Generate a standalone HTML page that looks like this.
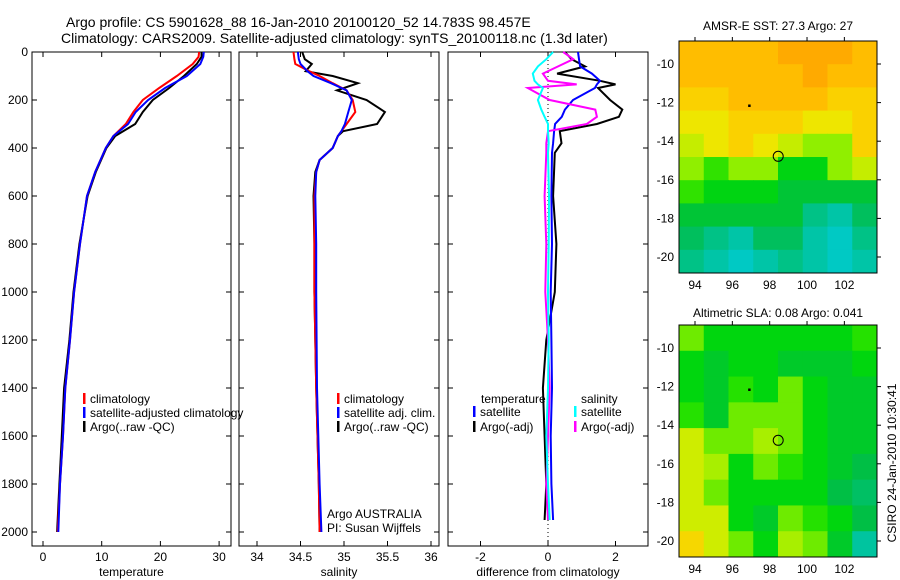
<!DOCTYPE html>
<html><head><meta charset="utf-8"><style>
body{margin:0;background:#fff;}
svg{display:block;font-family:"Liberation Sans",sans-serif;}
</style></head><body>
<svg id="fig" width="900" height="580" viewBox="0 0 900 580">
<text x="66" y="27" font-size="14">Argo profile: CS 5901628_88 16-Jan-2010 20100120_52 14.783S 98.457E</text>
<text x="61" y="43" font-size="14">Climatology: CARS2009. Satellite-adjusted climatology: synTS_20100118.nc (1.3d later)</text>
<text x="778" y="30" font-size="12" text-anchor="middle">AMSR-E SST: 27.3 Argo: 27</text>
<text x="778" y="317" font-size="12" text-anchor="middle">Altimetric SLA: 0.08 Argo: 0.041</text>
<text transform="translate(896,463) rotate(-90)" font-size="12" text-anchor="middle">CSIRO 24-Jan-2010 10:30:41</text>
<g id="layer"></g>
</svg>
<script>
// ---- data ----
const depthTicks=[0,200,400,600,800,1000,1200,1400,1600,1800,2000];
const tempTicks=[0,10,20,30];
const salTicks=[34,34.5,35,35.5,36];
const diffTicks=[-2,0,2];
const lonTicks=[94,96,98,100,102];
const latTicks=[-10,-12,-14,-16,-18,-20];

const tDepth=[0,20,50,100,150,200,250,300,350,400,500,600,800,1000,1200,1400,1600,1800,2000];
const tClim=[26.6,26.5,25.5,22.8,19.8,17.0,15.4,14.1,12.0,10.7,8.9,7.5,6.3,5.3,4.6,3.8,3.4,2.9,2.5];
const tSat=[27.4,27.3,26.8,24.5,20.8,17.9,15.8,14.5,12.0,10.7,8.9,7.5,6.3,5.3,4.6,3.8,3.4,2.9,2.6];
const tArgo=[27.0,27.0,26.2,24.0,21.5,18.7,17.0,15.7,12.3,10.8,9.0,7.6,6.2,5.2,4.5,3.6,3.2,2.8,2.4];

const sDepth=[0,30,50,80,100,130,160,200,250,300,330,350,400,450,500,600,800,1000,1400,1800,2000];
const sClim=[34.42,34.43,34.44,34.60,34.72,34.87,35.03,35.10,35.13,35.03,34.97,34.93,34.87,34.72,34.68,34.66,34.66,34.66,34.68,34.71,34.72];
const sSat=[34.47,34.48,34.50,34.58,34.65,34.85,35.03,35.09,35.05,35.01,34.97,34.93,34.87,34.72,34.68,34.67,34.68,34.68,34.69,34.72,34.74];
const sArgo=[34.52,34.55,34.63,34.56,34.87,35.16,34.92,35.26,35.47,35.38,34.99,34.93,34.87,34.72,34.67,34.65,34.66,34.66,34.68,34.71,34.72];

const dDepth=[0,30,60,90,120,135,150,200,240,270,300,330,380,420,600,800,1000,1200,1400,1600,1800,1950];
const dTempSat=[0.89,0.92,0.95,1.3,1.54,1.45,1.39,0.74,0.5,0.41,0.21,0.18,0.15,0.12,0.1,0.12,0.08,0.1,0.12,0.08,0.1,0.15];
const dTempArgo=[0.5,0.7,1.1,0.27,1.54,2.0,1.48,1.84,2.2,2.1,1.45,0.35,0.4,0.2,0.15,0.25,0.2,-0.05,-0.15,-0.1,-0.05,-0.1];
const dSalSat=[0.15,-0.05,-0.3,-0.45,-0.4,-0.3,-0.15,-0.3,-0.2,-0.1,0.0,0.0,0.02,0.0,0.03,0.02,0.0,0.02,0.0,-0.05,0.0,0.05];
const dSalArgo=[0.45,0.75,0.3,-0.15,0.0,0.85,-0.6,0.05,1.4,1.45,1.15,0.0,-0.05,-0.05,-0.1,-0.05,-0.08,0.0,0.05,0.0,-0.05,0.0];

// map grids (rows north->south, cols west->east)
const sstGrid=[
[27.6,27.6,27.6,27.6,27.7,27.7,27.7,27.6],
[27.6,27.6,27.6,27.6,27.6,27.7,27.6,27.6],
[27.5,27.5,27.6,27.6,27.6,27.6,27.5,27.5],
[27.4,27.4,27.5,27.5,27.5,27.4,27.4,27.5],
[27.3,27.4,27.5,27.4,27.3,27.2,27.2,27.5],
[27.2,27.1,27.2,27.2,27.0,27.0,27.2,27.3],
[27.1,27.0,27.0,27.0,26.9,26.9,26.9,26.9],
[26.9,26.9,26.9,26.9,26.9,26.7,26.6,26.8],
[26.8,26.7,26.6,26.8,26.8,26.6,26.5,26.7],
[26.7,26.6,26.5,26.6,26.7,26.6,26.5,26.6]];
const slaGrid=[
[0.10,0.08,0.08,0.08,0.08,0.08,0.08,0.09],
[0.08,0.07,0.08,0.08,0.07,0.07,0.07,0.08],
[0.08,0.07,0.09,0.08,0.10,0.08,0.07,0.07],
[0.09,0.07,0.10,0.10,0.10,0.08,0.07,0.07],
[0.12,0.10,0.10,0.11,0.10,0.08,0.07,0.07],
[0.12,0.11,0.08,0.10,0.09,0.08,0.07,0.06],
[0.12,0.10,0.08,0.08,0.08,0.08,0.06,0.05],
[0.12,0.12,0.08,0.07,0.10,0.09,0.08,0.06],
[0.14,0.12,0.10,0.08,0.11,0.10,0.07,0.03]];
const argoLon=98.457, argoLat=-14.783;

// ---- helpers ----
const NS='http://www.w3.org/2000/svg';
const layer=document.getElementById('layer');
function mk(tag,attrs,parent){const e=document.createElementNS(NS,tag);for(const k in attrs)e.setAttribute(k,attrs[k]);(parent||layer).appendChild(e);return e;}
const yTop=52,yBot=532,plotBot=546;
const yD=d=>yTop+d*(yBot-yTop)/2000;

function panel(name,x0,x1,xs,ticks,label,showY){
  const g=mk('g',{});
  
  
  const r=mk('rect',{x:x0,y:yTop,width:x1-x0,height:plotBot-yTop,fill:'none',stroke:'#000','stroke-width':1},g);
  
  
  depthTicks.forEach(d=>{
    mk('line',{x1:x0,x2:x0+5,y1:yD(d),y2:yD(d),stroke:'#000'},g);
    mk('line',{x1:x1-5,x2:x1,y1:yD(d),y2:yD(d),stroke:'#000'},g);
    if(showY){const t=mk('text',{x:x0-4,y:yD(d)+4,'font-size':12,'text-anchor':'end'},g);t.textContent=d;
      
      }
  });
  ticks.forEach(v=>{
    const x=xs(v);
    mk('line',{x1:x,x2:x,y1:yTop,y2:yTop+5,stroke:'#000'},g);
    mk('line',{x1:x,x2:x,y1:plotBot-5,y2:plotBot,stroke:'#000'},g);
    const t=mk('text',{x:x,y:plotBot+15,'font-size':12,'text-anchor':'middle'},g);t.textContent=v;
    
    
  });
  const t=mk('text',{x:(x0+x1)/2,y:plotBot+30,'font-size':12,'text-anchor':'middle'},g);t.textContent=label;
  
  
  return g;
}
function line(g,name,depths,vals,xs,color){
  const pts=vals.map((v,i)=>xs(v).toFixed(1)+','+yD(depths[i]).toFixed(1)).join(' ');
  const p=mk('polyline',{points:pts,fill:'none',stroke:color,'stroke-width':2},g);
  
  
}
function legend(g,x,y,color,txt){
  if(color){mk('rect',{x:x,y:y-10,width:2.5,height:11,fill:color},g);}
  const t=mk('text',{x:x+7,y:y,'font-size':12},g);t.textContent=txt;
  
  
}

// temperature panel
const xT=v=>43+v*5.87;
const gT=panel('temperature-panel',32,231,xT,tempTicks,'temperature',true);
line(gT,'temp-argo',tDepth,tArgo,xT,'#000');
line(gT,'temp-climatology',tDepth,tClim,xT,'#f00');
line(gT,'temp-satellite-adjusted',tDepth,tSat,xT,'#00f');
legend(gT,83,403,'#f00','climatology');
legend(gT,83,417,'#00f','satellite-adjusted climatology');
legend(gT,83,431,'#000','Argo(..raw -QC)');

// salinity panel
const xS=v=>257+(v-34)*87;
const gS=panel('salinity-panel',239,439,xS,salTicks,'salinity',false);
line(gS,'sal-argo',sDepth,sArgo,xS,'#000');
line(gS,'sal-climatology',sDepth,sClim,xS,'#f00');
line(gS,'sal-satellite-adjusted',sDepth,sSat,xS,'#00f');
legend(gS,337,403,'#f00','climatology');
legend(gS,337,417,'#00f','satellite adj. clim.');
legend(gS,337,431,'#000','Argo(..raw -QC)');
legend(gS,320,518,null,'Argo AUSTRALIA');
legend(gS,320,532,null,'PI: Susan Wijffels');

// difference panel
const xDf=v=>548+v*33.75;
const gD=panel('difference-panel',448,648,xDf,diffTicks,'difference from climatology',false);
mk('line',{x1:xDf(0),x2:xDf(0),y1:yTop,y2:plotBot,stroke:'#000','stroke-dasharray':'1,3'},gD);
line(gD,'diff-temp-argo',dDepth,dTempArgo,xDf,'#000');
line(gD,'diff-temp-satellite',dDepth,dTempSat,xDf,'#00f');
line(gD,'diff-sal-argo',dDepth,dSalArgo,xDf,'#f0f');
line(gD,'diff-sal-satellite',dDepth,dSalSat,xDf,'#0ff');
legend(gD,474,403,null,'temperature');
legend(gD,473,416,'#00f','satellite');
legend(gD,473,431,'#000','Argo(-adj)');
legend(gD,574,403,null,'salinity');
legend(gD,574,416,'#0ff','satellite');
legend(gD,574,431,'#f0f','Argo(-adj)');

// maps
const cstops=[[0,[0,205,225]],[0.2,[0,195,150]],[0.35,[0,190,70]],[0.5,[0,220,0]],[0.62,[150,240,0]],[0.75,[235,235,0]],[0.88,[255,200,0]],[1,[255,170,0]]];
function cmap(t){t=Math.max(0,Math.min(1,t));for(let i=1;i<cstops.length;i++){if(t<=cstops[i][0]){const a=cstops[i-1],b=cstops[i];const f=(t-a[0])/(b[0]-a[0]);return 'rgb('+a[1].map((c,k)=>Math.round(c+(b[1][k]-c)*f)).join(',')+')';}}return 'rgb(255,170,0)';}
function map(name,grid,vmin,vmax,x0,x1,yt,yb,lat10y,lat20y){
  const g=mk('g',{});
  
  
  const lonX=l=>695+(l-94)*18.67;
  const latY=l=>lat10y+(-10-l)*(lat20y-lat10y)/10;
  const rows=grid.length,cols=grid[0].length;
  const cw=(x1-x0)/cols,ch=(yb-yt)/rows;
  grid.forEach((row,i)=>row.forEach((v,j)=>{
    const c=mk('rect',{x:x0+j*cw,y:yt+i*ch,width:cw+0.5,height:ch+0.5,fill:cmap((v-vmin)/(vmax-vmin))},g);
    
    
  }));
  mk('rect',{x:x0,y:yt,width:x1-x0,height:yb-yt,fill:'none',stroke:'#000'},g);
  lonTicks.forEach(l=>{const x=lonX(l);
    mk('line',{x1:x,x2:x,y1:yt-4,y2:yt,stroke:'#000'},g);
    const t=mk('text',{x:x,y:yb+16,'font-size':12,'text-anchor':'middle'},g);t.textContent=l;
    
    });
  latTicks.forEach(l=>{const y=latY(l);
    mk('line',{x1:x1,x2:x1+4,y1:y,y2:y,stroke:'#000'},g);
    const t=mk('text',{x:x0-5,y:y+4,'font-size':12,'text-anchor':'end'},g);t.textContent=l;
    
    });
  mk('rect',{x:lonX(96.9)-1,y:latY(-12.15)-1,width:2.5,height:2.5,fill:'#000'},g);
  const m=mk('circle',{cx:lonX(argoLon),cy:latY(argoLat),r:5,fill:'none',stroke:'#000'},g);
  
  
}
map('sst-map',sstGrid,26.4,27.7,679,877,41,273,64,257);
map('sla-map',slaGrid,0.0,0.17,679,877,325,557,348,541);
</script>
</body></html>
